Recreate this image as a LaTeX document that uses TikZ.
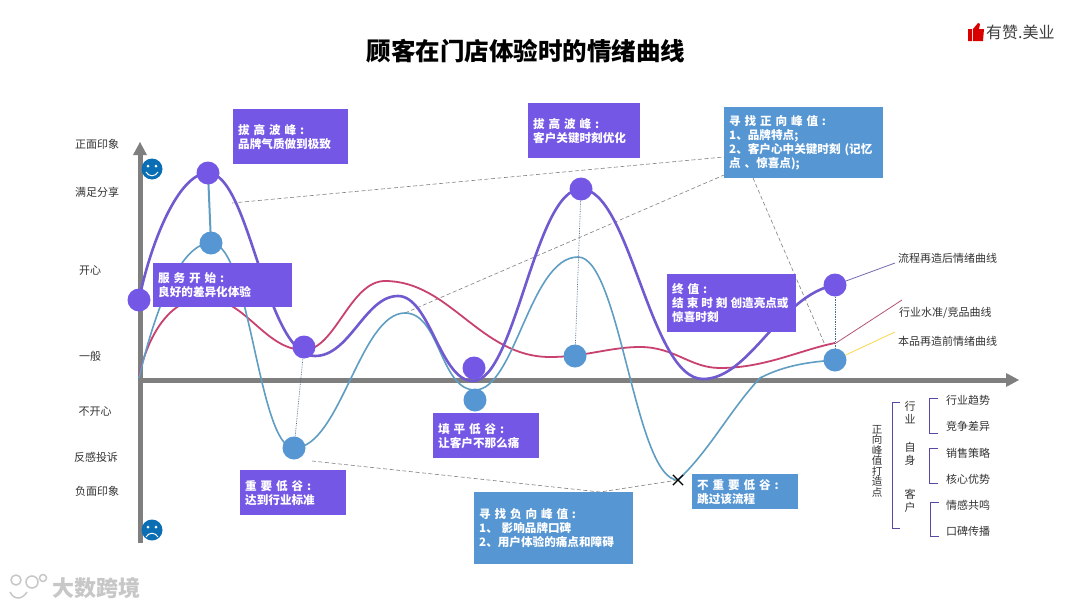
\documentclass[tikz,border=0pt]{standalone}
\usepackage{fontspec}
\usepackage{tikz}
\usetikzlibrary{shapes.misc}
\setmainfont{Noto Sans CJK SC}

\definecolor{boxpurple}{HTML}{7557E6}
\definecolor{boxblue}{HTML}{5596D3}
\definecolor{linepurple}{HTML}{7159CF}
\definecolor{lineblue}{HTML}{609DC2}
\definecolor{linepink}{HTML}{C9416F}
\definecolor{axisgray}{HTML}{7F7F7F}
\definecolor{facblue}{HTML}{0A6EB4}

\tikzset{
    lbl/.style={font=\fontsize{11}{13}\selectfont, text=black!80, inner sep=0pt},
    infobox/.style={anchor=north west, inner xsep=5pt, inner ysep=0pt, align=left,
        text=white, font=\fontsize{11.6}{14}\selectfont\bfseries},
    dotp/.style={circle, fill=boxpurple, minimum size=23pt, inner sep=0pt},
    dotb/.style={circle, fill=boxblue, minimum size=23pt, inner sep=0pt},
    face/.style={circle, fill=facblue, minimum size=21pt, inner sep=0pt},
    guide/.style={dash pattern=on 4pt off 2.5pt, line width=0.6pt, draw=black!50},
    drop/.style={densely dotted, line width=0.7pt, draw=lineblue!70!black},
    brk/.style={line width=1pt, draw=linepurple!80!black},
}

\begin{document}
\begin{tikzpicture}[x=1pt, y=-1pt]
        \useasboundingbox (0,0) rectangle (1080,608);
        \fill[white] (0,0) rectangle (1080,608);

        % Title and logo
        \node[font=\fontsize{24.5}{27}\selectfont\bfseries, inner sep=0pt] (title) at (526,51) {顾客在门店体验时的情绪曲线};
        \node[font=\fontsize{16}{18}\selectfont, text=black!75, inner sep=0pt, anchor=west] (brand) at (986,32) {有赞.美业};
        \fill[red!85!black] (968,41) -- (968,29) -- (972,29) -- (972,41) -- cycle
            (973,41) -- (973,29) -- (978,23) -- (980,24) -- (979,29) -- (984,29) -- (983,41) -- cycle;

        % Axes
        \coordinate (origin) at (140,380);
        \coordinate (ytop) at (140,142);
        \coordinate (ybot) at (140,543);
        \coordinate (xend) at (1019,380);
        \draw[axisgray, line width=5pt] (ybot) -- (140,155);
        \fill[axisgray] (ytop) -- (147,155) -- (133,155) -- cycle;
        \draw[axisgray, line width=5pt] (137.5,380) -- (1006,380);
        \fill[axisgray] (xend) -- (1006,373) -- (1006,387) -- cycle;

        % Axis labels
        \node[lbl] (l1) at (97,144) {正面印象};
        \node[lbl] (l2) at (97,192) {满足分享};
        \node[lbl] (l3) at (90,271) {开心};
        \node[lbl] (l4) at (90,356) {一般};
        \node[lbl] (l5) at (95,412) {不开心};
        \node[lbl] (l6) at (96,457) {反感投诉};
        \node[lbl] (l7) at (97,491) {负面印象};

        % Faces
        \node[face] (happy) at (152,169) {};
        \fill[white] (148,166) circle (1.5pt) (156,166) circle (1.5pt);
        \draw[white, line width=1pt] (146,172) .. controls (149,177) and (155,177) .. (158,172);
        \node[face] (sad) at (152,530) {};
        \fill[white] (148,527) circle (1.5pt) (156,527) circle (1.5pt);
        \draw[white, line width=1pt] (146,537) .. controls (149,532) and (155,532) .. (158,537);

        % Guides
        \draw[guide] (232,203) -- (724,157);
        \draw[guide] (405,313) -- (724,175);
        \draw[guide] (753,178) -- (825,345);
        \draw[guide] (312,461) -- (600,492) -- (678,480);

        % Curves
        \draw[linepink, line width=1.8pt] (139,376) .. controls (148,335) and (170,298) .. (205,298)
            .. controls (245,298) and (265,350) .. (304,350)
            .. controls (335,350) and (350,281) .. (385,281)
            .. controls (450,281) and (480,357) .. (550,357)
            .. controls (585,357) and (610,347) .. (640,347)
            .. controls (675,347) and (690,368) .. (720,368)
            .. controls (765,368) and (800,350) .. (835,343);
        \draw[lineblue, line width=1.6pt] (139,378) .. controls (155,310) and (180,243) .. (211,243)
            .. controls (250,243) and (258,448) .. (294,448)
            .. controls (340,448) and (360,313) .. (405,313)
            .. controls (440,313) and (440,390) .. (475,390)
            .. controls (515,390) and (530,257) .. (578,257)
            .. controls (620,257) and (635,480) .. (678,480)
            .. controls (710,450) and (730,410) .. (760,378)
            .. controls (785,365) and (810,362) .. (835,360);
        \draw[linepurple, line width=2.6pt] (139,300) .. controls (150,245) and (178,173) .. (208,173)
            .. controls (250,173) and (265,356) .. (315,356)
            .. controls (350,356) and (365,296) .. (398,296)
            .. controls (430,296) and (440,381) .. (473,381)
            .. controls (515,381) and (535,189) .. (581,189)
            .. controls (630,189) and (650,379) .. (703,379)
            .. controls (750,379) and (780,295) .. (835,285);

        % Drop lines
        \draw[lineblue, line width=2pt] (208,173) -- (211,243);
        \draw[drop] (304,347) -- (294,448);
        \draw[drop] (581,189) -- (575,356);
        \draw[drop] (835,285) -- (835,360);

        % Points
        \node[dotp] (p1) at (139,300) {};
        \node[dotp] (p2) at (208,173) {};
        \node[dotb] (b2) at (211,243) {};
        \node[dotp] (p3) at (304,347) {};
        \node[dotb] (b3) at (294,448) {};
        \node[dotp] (p4) at (474,368) {};
        \node[dotb] (b4) at (475,400) {};
        \node[dotp] (p5) at (581,189) {};
        \node[dotb] (b5) at (575,356) {};
        \node[dotp] (p6) at (835,285) {};
        \node[dotb] (b6) at (835,360) {};
        \node[draw, cross out, line width=1.2pt, minimum size=9pt, inner sep=0pt] (skip) at (678,480) {};

        % Purple boxes
        \node[infobox, fill=boxpurple, minimum width=115pt, minimum height=55pt, text width=105pt] (peaka) at (233,109) {拔 高 波 峰 :\\品牌气质做到极致};
        \node[infobox, fill=boxpurple, minimum width=139pt, minimum height=44pt, text width=129pt] (start) at (153,263) {服 务 开 始 :\\良好的差异化体验};
        \node[infobox, fill=boxpurple, minimum width=106pt, minimum height=45pt, text width=96pt] (vala) at (240,470) {重 要 低 谷 :\\达到行业标准};
        \node[infobox, fill=boxpurple, minimum width=106pt, minimum height=45pt, text width=96pt] (valb) at (433,413) {填 平 低 谷 :\\让客户不那么痛};
        \node[infobox, fill=boxpurple, minimum width=112pt, minimum height=55pt, text width=102pt] (peakb) at (528,103) {拔 高 波 峰 :\\客户关键时刻优化};
        \node[infobox, fill=boxpurple, minimum width=129pt, minimum height=58pt, text width=119pt] (finish) at (667,274) {终 值 :\\结\hspace{3pt}束\hspace{3pt}时\hspace{3pt}刻\hspace{3pt}创造亮点或\\惊喜时刻};

        % Blue boxes
        \node[infobox, fill=boxblue, minimum width=159pt, minimum height=71pt, text width=149pt] (pos) at (724,107) {寻 找 正 向 峰 值 :\\1、品牌特点;\\2、客户心中关键时刻 (记忆\\点 、惊喜点);};
        \node[infobox, fill=boxblue, minimum width=159pt, minimum height=72pt, text width=149pt] (neg) at (474,492) {寻 找 负 向 峰 值 :\\ 1、 影响品牌口碑\\ 2、用户体验的痛点和障碍};
        \node[infobox, fill=boxblue, minimum width=106pt, minimum height=35pt, text width=96pt] (skipbox) at (692,474) {不 重 要 低 谷 :\\跳过该流程};

        % Legend
        \coordinate (lega) at (895,263);
        \coordinate (legb) at (902,300);
        \coordinate (legc) at (895,332);
        \draw[linepurple!60!gray, line width=0.8pt] (p6) -- (lega);
        \draw[linepink!70!gray, line width=0.8pt] (836,343) -- (legb);
        \draw[yellow!60!orange!70, line width=0.8pt] (b6) -- (legc);
        \node[lbl, anchor=west] (tag1) at (898,258) {流程再造后情绪曲线};
        \node[lbl, anchor=west] (tag2) at (899,313) {行业水准/竞品曲线};
        \node[lbl, anchor=west] (tag3) at (898,341) {本品再造前情绪曲线};

        % Peak tree
        \node[lbl, align=center, font=\fontsize{10.5}{10.5}\selectfont] (root) at (877,461) {正\\向\\峰\\值\\打\\造\\点};
        \node[lbl, align=center, font=\fontsize{11}{13}\selectfont] (hang) at (910,413) {行\\业};
        \node[lbl, align=center, font=\fontsize{11}{13}\selectfont] (self) at (910,454) {自\\身};
        \node[lbl, align=center, font=\fontsize{11}{13}\selectfont] (cust) at (910,501) {客\\户};
        \draw[brk] (900,402) -- (892,402) -- (892,528) -- (900,528);
        \draw[brk] (938,398) -- (929,398) -- (929,433) -- (938,433);
        \draw[brk] (938,448) -- (929,448) -- (929,483) -- (938,483);
        \draw[brk] (939,502) -- (930,502) -- (930,536) -- (939,536);
        \node[lbl] (t1) at (968,400) {行业趋势};
        \node[lbl] (t2) at (968,426) {竞争差异};
        \node[lbl] (t3) at (968,453) {销售策略};
        \node[lbl] (t4) at (968,479) {核心优势};
        \node[lbl] (t5) at (968,505) {情感共鸣};
        \node[lbl] (t6) at (968,531) {口碑传播};

        % Watermark
        \node[font=\fontsize{22}{24}\selectfont\bfseries, text=black!22, inner sep=0pt, anchor=west] (mark) at (52,588) {大数跨境};
        \draw[black!22, line width=1.5pt] (16,580) circle (5pt) (32,582) circle (6pt) (43,578) circle (3.5pt);
        \draw[black!22, line width=1.5pt] (10,592) .. controls (14,600) and (22,600) .. (27,592);
\end{tikzpicture}
\end{document}
